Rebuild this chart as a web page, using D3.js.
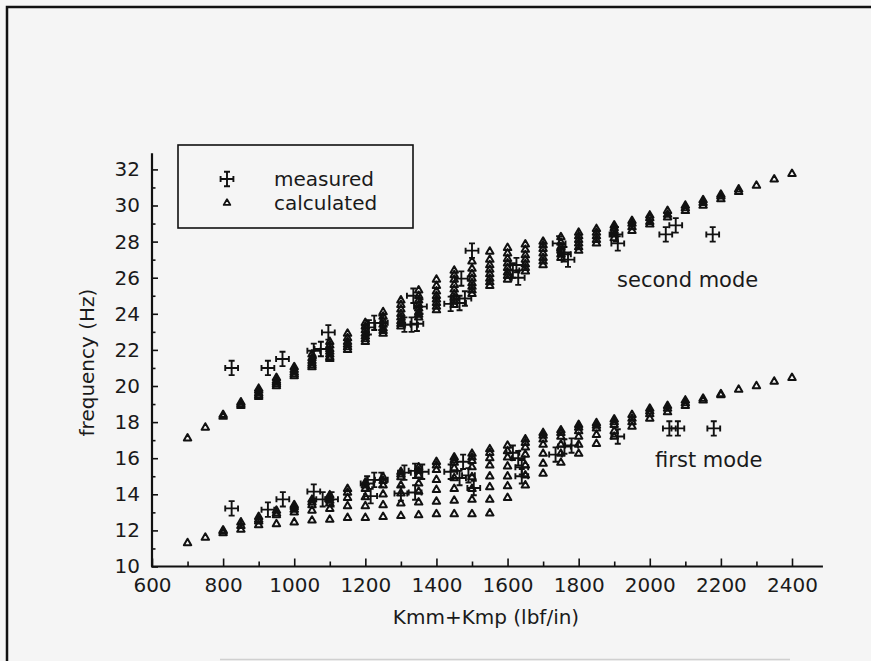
<html>

<head>
    <style>
        body {
            margin: 0;
            background-color: #f5f5f5;
            font-family: "DejaVu Sans", Helvetica, Arial, sans-serif
        }

        svg {
            display: block
        }

        .ink {
            stroke: #111;
            fill: none
        }

        text {
            fill: #1a1a1a
        }
    </style>

    <script src="https://cdn.jsdelivr.net/npm/d3@7"></script>
</head>

<body>
    <svg id="Chart"></svg>

    <script>
        // calculated frequencies: one column of model results every 50 lbf/in
        let calcK = d3.range(700, 2401, 50);

        let calcFirst = [
            [11.3], [11.6], [11.85, 11.95, 12.0], [12.05, 12.25, 12.45],
            [12.3, 12.5, 12.6, 12.75], [12.35, 12.85, 12.95, 13.1],
            [12.45, 13.0, 13.15, 13.3, 13.4], [12.55, 13.1, 13.4, 13.55, 13.7],
            [12.6, 13.2, 13.5, 13.65, 13.8, 13.95], [12.7, 13.35, 13.8, 14.1, 14.3],
            [12.7, 13.35, 13.85, 14.3, 14.5, 14.65], [12.75, 13.4, 14.0, 14.5, 14.75, 14.95],
            [12.8, 13.5, 14.05, 14.5, 14.95, 15.1, 15.25], [12.85, 13.55, 14.15, 14.6, 15.05, 15.3, 15.5],
            [12.9, 13.6, 14.25, 14.8, 15.35, 15.6, 15.8], [12.9, 13.65, 14.3, 14.9, 15.45, 15.75, 15.9, 16.05],
            [12.9, 13.7, 14.3, 14.95, 15.5, 15.85, 16.05, 16.25], [12.95, 13.7, 14.4, 15.0, 15.6, 16.0, 16.3, 16.5],
            [13.8, 14.45, 15.0, 15.55, 16.05, 16.4, 16.7], [14.5, 15.05, 15.6, 16.2, 16.6, 16.85, 17.05],
            [15.15, 15.7, 16.25, 16.75, 17.05, 17.25, 17.4], [15.75, 16.25, 16.75, 17.2, 17.4, 17.55],
            [16.25, 16.75, 17.2, 17.5, 17.7, 17.85], [16.8, 17.3, 17.65, 17.8, 17.95],
            [17.2, 17.5, 17.85, 18.0, 18.15], [17.75, 18.0, 18.2, 18.4],
            [18.2, 18.45, 18.6, 18.75], [18.55, 18.75, 18.9],
            [18.9, 19.05, 19.2], [19.2, 19.3], [19.5, 19.55], [19.8], [20.0], [20.25], [20.45]
        ];

        let calcSecond = [
            [17.1], [17.7], [18.3, 18.4], [18.9, 19.0, 19.1],
            [19.4, 19.5, 19.6, 19.75, 19.85], [20.0, 20.1, 20.2, 20.3, 20.45],
            [20.55, 20.65, 20.75, 20.9, 21.05], [21.05, 21.15, 21.25, 21.4, 21.55, 21.75],
            [21.5, 21.6, 21.75, 21.9, 22.05, 22.25, 22.45], [22.0, 22.15, 22.3, 22.45, 22.65, 22.9],
            [22.45, 22.6, 22.75, 22.9, 23.1, 23.3, 23.5], [22.9, 23.05, 23.2, 23.4, 23.6, 23.85, 24.1],
            [23.3, 23.45, 23.6, 23.8, 24.0, 24.25, 24.5, 24.75], [23.8, 23.95, 24.1, 24.3, 24.5, 24.75, 25.0, 25.3],
            [24.2, 24.4, 24.6, 24.8, 25.0, 25.25, 25.55, 25.9], [24.5, 24.7, 24.9, 25.1, 25.35, 25.6, 25.9, 26.15, 26.4],
            [25.1, 25.3, 25.5, 25.7, 25.95, 26.2, 26.5, 26.9], [25.55, 25.75, 25.95, 26.2, 26.45, 26.7, 27.0, 27.45],
            [25.9, 26.1, 26.3, 26.55, 26.8, 27.05, 27.35, 27.65], [26.35, 26.55, 26.75, 27.0, 27.25, 27.55, 27.85],
            [26.7, 26.9, 27.1, 27.35, 27.6, 27.8, 28.0], [27.1, 27.3, 27.5, 27.7, 27.95, 28.25],
            [27.5, 27.7, 27.9, 28.1, 28.3, 28.5], [27.9, 28.1, 28.3, 28.5, 28.7],
            [28.2, 28.4, 28.6, 28.75, 28.9], [28.6, 28.8, 29.0, 29.15],
            [28.95, 29.1, 29.3, 29.45], [29.35, 29.5, 29.7],
            [29.7, 29.85, 30.0], [30.0, 30.15, 30.3], [30.35, 30.5, 30.6], [30.75, 30.9], [31.1], [31.45], [31.75]
        ];

        // measured points [K, frequency]
        let measFirst = [
            [824, 13.22], [926, 13.15], [968, 13.72], [1055, 14.15], [1080, 13.72], [1105, 13.72],
            [1205, 14.6], [1225, 14.8], [1245, 14.8], [1215, 13.9], [1310, 15.2], [1340, 15.3],
            [1360, 15.25], [1300, 14.05], [1340, 14.1], [1440, 15.25], [1465, 14.9], [1475, 15.8],
            [1490, 15.05], [1505, 14.35], [1615, 16.3], [1630, 16.0], [1640, 15.5], [1640, 15.0],
            [1735, 16.2], [1760, 16.65], [1780, 16.7], [1910, 17.2], [2055, 17.65], [2079, 17.65], [2180, 17.65]
        ];

        let measSecond = [
            [824, 21.0], [926, 21.0], [967, 21.5], [1055, 21.95], [1075, 22.05], [1096, 22.97],
            [1210, 23.25], [1225, 23.5], [1245, 23.5], [1310, 23.4], [1330, 23.4], [1345, 23.45],
            [1335, 25.0], [1355, 24.4], [1440, 24.55], [1465, 24.6], [1480, 24.85], [1470, 25.95],
            [1500, 27.5], [1615, 26.4], [1630, 26.0], [1625, 26.7], [1745, 27.9], [1760, 27.3],
            [1770, 27.0], [1905, 28.4], [1910, 27.9], [2045, 28.4], [2073, 28.9], [2177, 28.4]
        ];

        // measurement uncertainty (half-width of the error bars)
        let errK = 18;
        let errF = 0.4;

        let xTicks = d3.range(600, 2401, 200);
        let yTicks = d3.range(10, 33, 2);
        let xMinor = d3.range(700, 2400, 200);
        let yMinor = d3.range(11, 33, 2);

        let legendLabels = ["measured", "calculated"];
        let modeLabels = [
            { text: "second mode", k: 1908, f: 25.5 },
            { text: "first mode", k: 2015, f: 15.53 }
        ];


        function getConfig() {
            let width = 871;
            let height = 661;
            let container = d3.select("#Chart")
                .attr("width", width)
                .attr("height", height);
            return { width, height, container };
        }


        function getScales() {
            let xScale = d3.scaleLinear().domain([600, 2400]).range([152, 792]);
            let yScale = d3.scaleLinear().domain([10, 32]).range([566.5, 169.4]);
            return { xScale, yScale };
        }


        function drawFrame(config) {
            let { container } = config;
            container.append("path")
                .attr("class", "ink")
                .attr("stroke-width", 2.5)
                .attr("d", "M7,661 L7,7 L871,7");
            container.append("line")
                .attr("x1", 220).attr("x2", 790)
                .attr("y1", 659.5).attr("y2", 659.5)
                .attr("stroke", "#d0d0d0")
                .attr("stroke-width", 1.5);
        }


        function drawAxes(scales, config) {
            let { xScale, yScale } = scales;
            let { container } = config;
            let x0 = xScale(600), y0 = yScale(10);

            // x axis, ticks pointing into the plot
            let axisX = container.append("g")
                .attr("transform", `translate(0,${y0})`)
                .call(d3.axisBottom(xScale).tickValues(xTicks).tickFormat(d3.format("d"))
                    .tickSize(-8).tickPadding(11).tickSizeOuter(0));
            axisX.append("g")
                .call(d3.axisBottom(xScale).tickValues(xMinor).tickSize(-5).tickFormat(""));

            let axisY = container.append("g")
                .attr("transform", `translate(${x0},0)`)
                .call(d3.axisLeft(yScale).tickValues(yTicks).tickFormat(d3.format("d"))
                    .tickSize(-6).tickPadding(12).tickSizeOuter(0));
            axisY.append("g")
                .call(d3.axisLeft(yScale).tickValues(yMinor).tickSize(-3.5).tickFormat(""));

            container.selectAll(".domain").remove();
            container.selectAll(".tick line").attr("stroke", "#111").attr("stroke-width", 1.6);
            container.selectAll(".tick text")
                .attr("font-family", "DejaVu Sans")
                .attr("font-size", 20)
                .attr("fill", "#1a1a1a");

            // long axis lines run past the last labelled tick
            container.append("line").attr("class", "ink")
                .attr("stroke-width", 2.2)
                .attr("x1", x0 - 1).attr("x2", xScale(2487))
                .attr("y1", y0).attr("y2", y0);
            container.append("line").attr("class", "ink")
                .attr("stroke-width", 2.2)
                .attr("x1", x0).attr("x2", x0)
                .attr("y1", y0).attr("y2", yScale(32.9));

            container.append("text")
                .attr("x", (xScale(600) + xScale(2400)) / 2 + 14)
                .attr("y", 624)
                .attr("text-anchor", "middle")
                .attr("font-size", 20)
                .text("Kmm+Kmp (lbf/in)");

            container.append("text")
                .attr("transform", `translate(94,${yScale(21.3)}) rotate(-90)`)
                .attr("text-anchor", "middle")
                .attr("font-size", 20)
                .text("frequency (Hz)");
        }


        function crossPath(cx, cy, hx, hy) {
            let c = 3;
            return `M${cx - hx},${cy} L${cx + hx},${cy}` +
                `M${cx - hx},${cy - c} L${cx - hx},${cy + c}` +
                `M${cx + hx},${cy - c} L${cx + hx},${cy + c}` +
                `M${cx},${cy - hy} L${cx},${cy + hy}` +
                `M${cx - c},${cy - hy} L${cx + c},${cy - hy}` +
                `M${cx - c},${cy + hy} L${cx + c},${cy + hy}`;
        }


        function drawCalculated(scales, config) {
            let { xScale, yScale } = scales;
            let { container } = config;
            let tri = d3.symbol().type(d3.symbolTriangle).size(24);

            let points = [];
            calcK.forEach((k, i) => {
                calcFirst[i].forEach(f => points.push({ k, f }));
                calcSecond[i].forEach(f => points.push({ k, f }));
            });

            container.append("g").selectAll("path")
                .data(points)
                .enter().append("path")
                .attr("class", "ink")
                .attr("stroke-width", 2)
                .attr("stroke-linejoin", "round")
                .attr("transform", d => `translate(${xScale(d.k)},${yScale(d.f)})`)
                .attr("d", tri);
        }


        function drawMeasured(scales, config) {
            let { xScale, yScale } = scales;
            let { container } = config;
            let points = measFirst.concat(measSecond);

            container.append("g").selectAll("path")
                .data(points)
                .enter().append("path")
                .attr("class", "ink")
                .attr("stroke-width", 1.9)
                .attr("d", d => {
                    let cx = xScale(d[0]), cy = yScale(d[1]);
                    return crossPath(cx, cy, xScale(d[0] + errK) - cx, cy - yScale(d[1] + errF));
                });
        }


        function drawLegend(scales, config) {
            let { xScale, yScale } = scales;
            let { container } = config;
            let hx = xScale(600 + errK) - xScale(600);
            let hy = yScale(10) - yScale(10 + errF);

            let legend = container.append("g");
            legend.append("rect")
                .attr("class", "ink")
                .attr("stroke-width", 1.6)
                .attr("x", 178).attr("y", 145)
                .attr("width", 235).attr("height", 83);

            legend.append("path")
                .attr("class", "ink")
                .attr("stroke-width", 1.9)
                .attr("d", crossPath(227, 179, hx, hy));
            legend.append("path")
                .attr("class", "ink")
                .attr("stroke-width", 1.8)
                .attr("stroke-linejoin", "round")
                .attr("transform", "translate(227,203)")
                .attr("d", d3.symbol().type(d3.symbolTriangle).size(19));

            legend.selectAll("text")
                .data(legendLabels)
                .enter().append("text")
                .attr("x", 274)
                .attr("y", (d, i) => 186 + i * 24)
                .attr("font-size", 20)
                .text(d => d);
        }


        function drawModeLabels(scales, config) {
            let { xScale, yScale } = scales;
            config.container.selectAll(".mode")
                .data(modeLabels)
                .enter().append("text")
                .attr("class", "mode")
                .attr("x", d => xScale(d.k))
                .attr("y", d => yScale(d.f))
                .attr("font-size", 21)
                .text(d => d.text);
        }


        function drawChart() {
            let config = getConfig();
            let scales = getScales();
            drawFrame(config);
            drawAxes(scales, config);
            drawCalculated(scales, config);
            drawMeasured(scales, config);
            drawLegend(scales, config);
            drawModeLabels(scales, config);
        }

        drawChart();
    </script>
</body>

</html>
